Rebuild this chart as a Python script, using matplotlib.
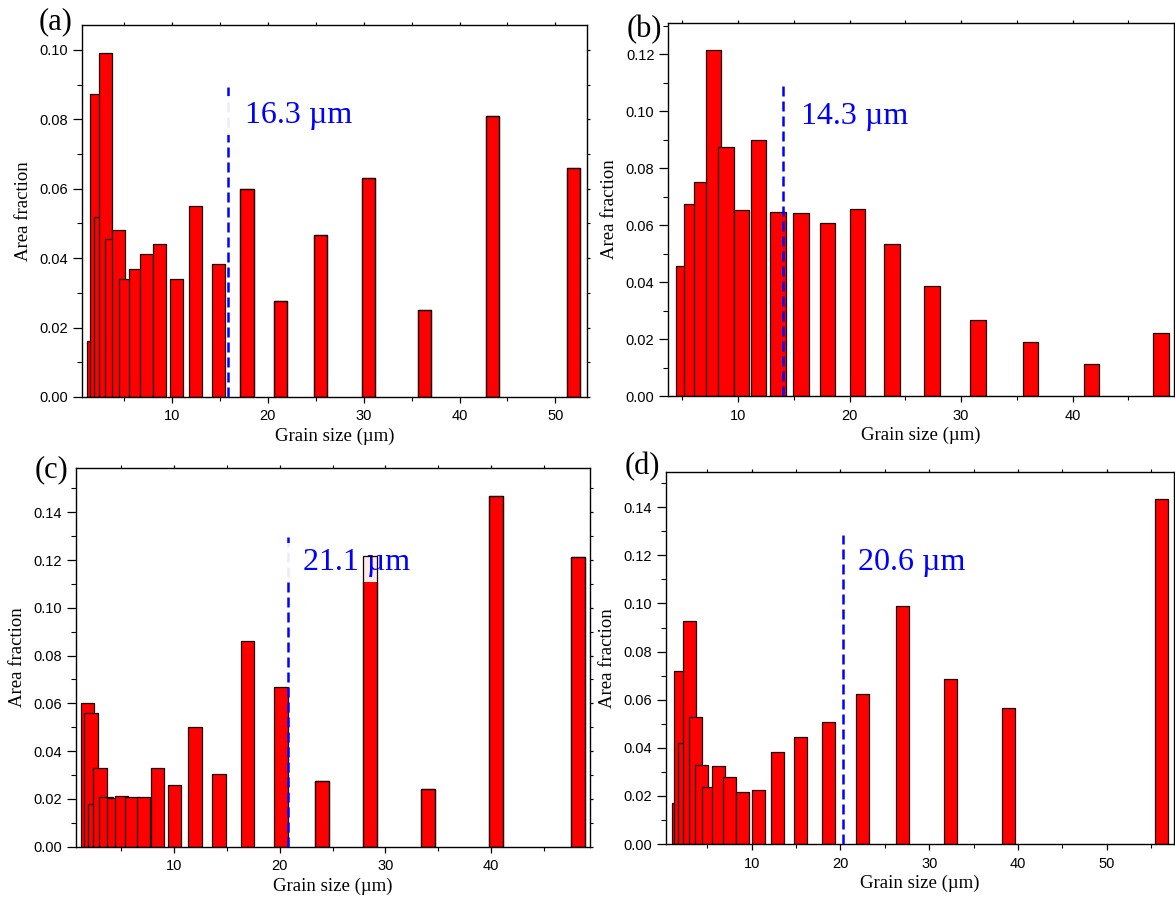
import matplotlib
matplotlib.use('Agg')
import matplotlib.pyplot as plt
from matplotlib.ticker import MultipleLocator, FormatStrFormatter

# grain size (um) and area fraction for each panel
a_size = [1.80, 2.15, 2.53, 3.05, 3.64, 4.38, 5.14, 6.15, 7.33, 8.69, 10.46, 12.45,
          14.89, 17.82, 21.30, 25.47, 30.45, 36.37, 43.47, 51.93]
a_frac = [0.0162, 0.0873, 0.052, 0.0992, 0.0454, 0.048, 0.034, 0.0368, 0.0411, 0.0441,
          0.0339, 0.055, 0.0382, 0.0599, 0.0276, 0.0467, 0.063, 0.0252, 0.081, 0.0659]

b_size = [5.09, 5.86, 6.75, 7.78, 8.90, 10.28, 11.80, 13.55, 15.65, 18.0, 20.72, 23.80,
          27.4, 31.52, 36.22, 41.68, 47.93]
b_frac = [0.0458, 0.0675, 0.0753, 0.1215, 0.0875, 0.0652, 0.090, 0.0645, 0.0644, 0.0608,
          0.0658, 0.0533, 0.0387, 0.0266, 0.0190, 0.0111, 0.0222]

c_size = [1.80, 2.12, 2.47, 2.97, 3.54, 4.24, 5.02, 6.0, 7.11, 8.43, 10.04, 11.96,
          14.24, 16.96, 20.11, 23.99, 28.57, 34.04, 40.47, 48.27]
c_frac = [0.060, 0.0561, 0.0177, 0.0328, 0.0209, 0.0203, 0.0214, 0.0208, 0.0208, 0.0331,
          0.0258, 0.050, 0.0303, 0.086, 0.067, 0.0276, 0.1217, 0.024, 0.1468, 0.1211]

d_size = [1.71, 2.0, 2.45, 2.95, 3.63, 4.30, 5.16, 6.22, 7.46, 8.96, 10.80, 12.94,
          15.54, 18.70, 22.50, 27.01, 32.43, 38.93, 56.15]
d_frac = [0.0169, 0.0721, 0.0419, 0.0927, 0.0529, 0.033, 0.0238, 0.0324, 0.028, 0.0218,
          0.0223, 0.0383, 0.0444, 0.0506, 0.0624, 0.0991, 0.0687, 0.0565, 0.1436]

# mean grain size markers
mean_pos = [15.85, 14.03, 20.8, 20.33]
mean_top = [0.0893, 0.1089, 0.1297, 0.1285]
mean_text = ['16.3 \u00b5m', '14.3 \u00b5m', '21.1 \u00b5m', '20.6 \u00b5m']
panel_names = ['(a)', '(b)', '(c)', '(d)']

# layout
W, H = 1175, 899
boxes = [(82, 587, 25, 397), (668.3, 1174, 22.7, 396),
         (76, 590, 468.3, 846.7), (666, 1174, 471.7, 844)]
xlims = [(0.6, 53.3), (3.73, 49.1), (0.69, 49.4), (0.33, 57.6)]
ytops = [0.1072, 0.1311, 0.1584, 0.1548]
bar_w = [1.36, 1.39, 1.28, 1.47]
text_xy = [(15.92, 0.079), (15.67, 0.0954), (20.64, 0.1159), (22.03, 0.1139)]
masked = [True, False, True, False]
name_xy = [(72, 29), (661.7, 37), (68, 477), (660, 474)]

serif = 'Liberation Serif'
sans = 'Liberation Sans'
edge = '#1a0000'

data = [(a_size, a_frac), (b_size, b_frac), (c_size, c_frac), (d_size, d_frac)]

fig = plt.figure(figsize=(W / 100, H / 100), dpi=100)

for i, (size, frac) in enumerate(data):
    l, r, t, b = boxes[i]
    ax = fig.add_axes([l / W, 1 - b / H, (r - l) / W, (b - t) / H])

    ax.bar(size, frac, bar_w[i], color='#ff0000', edgecolor=edge,
           linewidth=0.9, zorder=2)
    ax.vlines(mean_pos[i], 0, mean_top[i], colors='#0000ff', linestyles=(0, (4, 2)),
              linewidth=1.8, zorder=3)

    label = mean_text[i]
    kw = {}
    if masked[i]:
        label = '  ' + label
        kw['bbox'] = dict(boxstyle='square,pad=0.15', fc='white', ec='none', alpha=0.92)
    ax.text(text_xy[i][0], text_xy[i][1], label, color='#0000ff', fontsize=23,
            family=serif, ha='left', va='baseline', zorder=4, **kw)
    if masked[i]:
        # outlines of the bars right of the label stay visible over its box
        xs = [s for s in size if s > text_xy[i][0] + bar_w[i]]
        hs = [f for s, f in zip(size, frac) if s > text_xy[i][0] + bar_w[i]]
        ax.bar(xs, hs, bar_w[i], fill=False, edgecolor=edge, linewidth=0.9, zorder=5)

    ax.set_xlim(*xlims[i])
    ax.set_ylim(0, ytops[i])
    ax.xaxis.set_major_locator(MultipleLocator(10))
    ax.xaxis.set_minor_locator(MultipleLocator(5))
    ax.yaxis.set_major_locator(MultipleLocator(0.02))
    ax.yaxis.set_minor_locator(MultipleLocator(0.01))
    ax.yaxis.set_major_formatter(FormatStrFormatter('%.2f'))

    ax.tick_params(axis='y', which='major', direction='out', length=6.5, width=0.9,
                   pad=3.5, labelsize=10.5)
    ax.tick_params(axis='y', which='minor', direction='out', length=3.5, width=0.8)
    ax.tick_params(axis='x', which='major', direction='out', length=4.5, width=0.9,
                   pad=4.5, labelsize=10.5)
    ax.tick_params(axis='x', which='minor', direction='out', length=3, width=0.8)
    ax.tick_params(which='both', top=True, right=True, labeltop=False, labelright=False)
    for tk in ax.xaxis.get_major_ticks() + ax.xaxis.get_minor_ticks():
        tk.tick2line.set_markersize(2)
    for tk in ax.yaxis.get_major_ticks() + ax.yaxis.get_minor_ticks():
        tk.tick2line.set_markersize(2)
    for lab in ax.get_xticklabels() + ax.get_yticklabels():
        lab.set_family(sans)

    for sp in ax.spines.values():
        sp.set_linewidth(1.0)

    ax.set_xlabel('Grain size (\u00b5m)', family=serif, fontsize=13.5, labelpad=3)
    ax.set_ylabel('Area fraction', family=serif, fontsize=13.5, labelpad=5.5)

    fig.text(name_xy[i][0] / W, 1 - name_xy[i][1] / H, panel_names[i], family=serif,
             fontsize=22, ha='right', va='baseline')

fig.savefig('out.png', dpi=100)
